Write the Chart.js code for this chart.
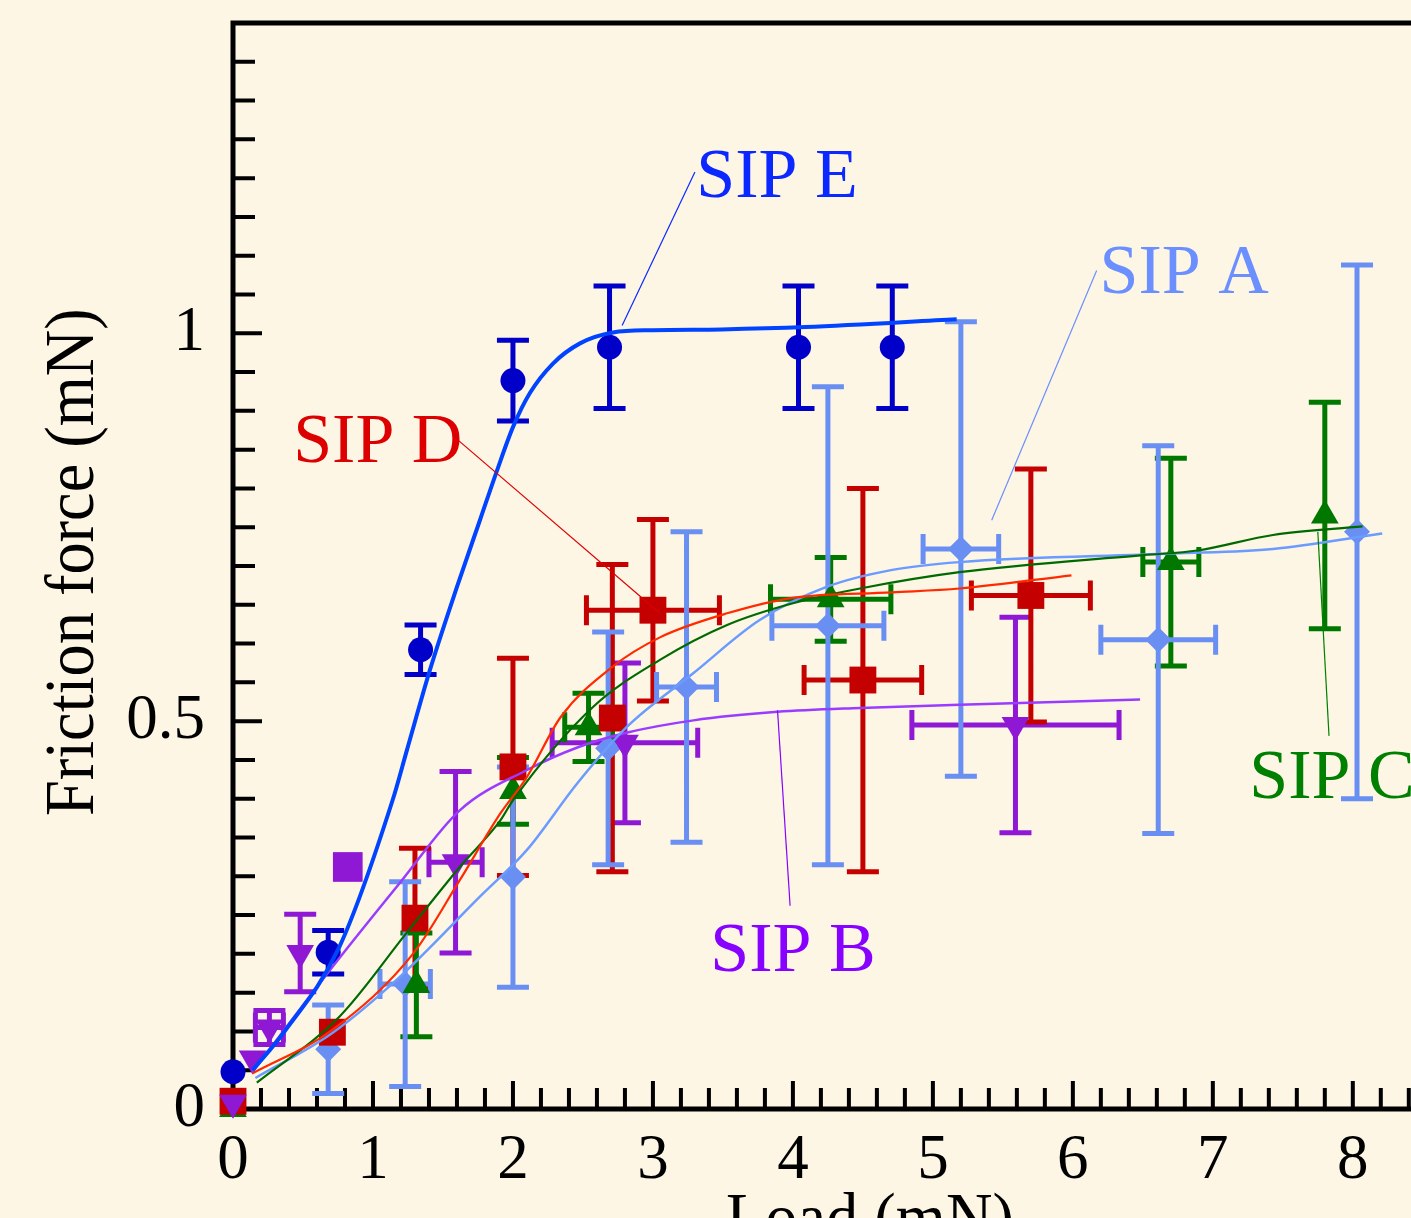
<!DOCTYPE html>
<html>
<head>
<meta charset="utf-8">
<title>Friction force vs load</title>
<script src="https://cdn.jsdelivr.net/npm/chart.js@4.4.0/dist/chart.umd.min.js"></script>
<style>
  html, body { margin: 0; padding: 0; overflow: hidden; background: #fdf6e5; }
  canvas { display: block; }
</style>
</head>
<body>
<canvas id="fric" width="1420" height="1218"></canvas>
<script>
// measured points (load mN, friction mN) with error bars
const sipE_x = [0, 0.68, 1.34, 2.0, 2.69, 4.04, 4.71];
const sipE_y = [0.048, 0.202, 0.592, 0.939, 0.982, 0.982, 0.982];
const sipE_xErr = [0, 0, 0, 0, 0, 0, 0];
const sipE_yErr = [0, 0.028, 0.032, 0.052, 0.079, 0.079, 0.079];

const sipD_x = [0, 0.71, 1.30, 2.0, 2.71, 3.0, 4.5, 5.70];
const sipD_y = [0.01, 0.099, 0.246, 0.441, 0.504, 0.643, 0.553, 0.662];
const sipD_xErr = [0, 0, 0, 0, 0, 0.475, 0.42, 0.425];
const sipD_yErr = [0, 0, 0.09, 0.14, 0.198, 0.117, 0.247, 0.163];

const sipC_x = [0, 1.31, 2.0, 2.54, 4.27, 6.70, 7.80];
const sipC_y = [0, 0.160, 0.410, 0.492, 0.657, 0.705, 0.765];
const sipC_xErr = [0, 0, 0, 0.17, 0.43, 0.2, 0];
const sipC_yErr = [0, 0.067, 0.043, 0.044, 0.054, 0.134, 0.146];

const sipA_x = [0, 0.68, 1.23, 2.0, 2.68, 3.24, 4.25, 5.20, 6.61, 8.03];
const sipA_y = [0.005, 0.077, 0.161, 0.299, 0.465, 0.544, 0.623, 0.722, 0.605, 0.744];
const sipA_xErr = [0, 0, 0.18, 0, 0, 0.214, 0.4, 0.27, 0.41, 0];
const sipA_yErr = [0, 0.057, 0.132, 0.142, 0.15, 0.2, 0.308, 0.293, 0.25, 0.344];

const sipB_x = [0, 0.14, 0.26, 0.48, 0.82, 1.59, 2.8, 5.59];
const sipB_y = [0.008, 0.065, 0.105, 0.201, 0.312, 0.318, 0.472, 0.495];
const sipB_xErr = [0, 0, 0.1, 0, 0, 0.19, 0.52, 0.74];
const sipB_yErr = [0, 0, 0.022, 0.05, 0, 0.117, 0.103, 0.139];
const sipB_style = ['triangle', 'triangle', 'triangle', 'triangle', 'rect', 'triangle', 'triangle', 'triangle'];
const sipB_size = [16, 16, 16, 16, 21, 16, 16, 16];

// fitted curves
const curveE_x = [0.14, 0.36, 0.76, 1.14, 1.243, 1.407, 1.60, 1.764, 1.886, 2.0, 2.121, 2.286, 2.479, 2.714, 3.0, 3.49, 4.09, 5.17];
const curveE_y = [0.05, 0.098, 0.209, 0.398, 0.463, 0.566, 0.673, 0.759, 0.823, 0.879, 0.923, 0.961, 0.987, 1.001, 1.004, 1.005, 1.008, 1.018];
const curveD_x = [0.14, 0.71, 1.29, 1.62, 1.91, 2.10, 2.34, 2.71, 3.05, 3.53, 4.0, 4.71, 5.19, 5.99];
const curveD_y = [0.046, 0.102, 0.201, 0.295, 0.381, 0.428, 0.505, 0.570, 0.608, 0.639, 0.659, 0.666, 0.671, 0.688];
const curveC_x = [0.17, 0.76, 1.24, 1.62, 1.91, 2.0, 2.57, 3.05, 3.53, 4.0, 4.48, 5.19, 6.5, 6.89, 7.43, 8.07];
const curveC_y = [0.034, 0.119, 0.227, 0.312, 0.372, 0.398, 0.518, 0.579, 0.624, 0.652, 0.671, 0.692, 0.714, 0.720, 0.740, 0.751];
const curveA_x = [0.16, 0.71, 1.19, 1.76, 2.10, 2.46, 2.81, 3.29, 3.76, 4.24, 4.71, 5.19, 6.71, 7.43, 8.21];
const curveA_y = [0.040, 0.098, 0.170, 0.273, 0.334, 0.420, 0.492, 0.562, 0.630, 0.673, 0.695, 0.705, 0.716, 0.722, 0.742];
const curveB_x = [0.14, 0.71, 1.19, 1.62, 2.10, 2.46, 2.81, 3.29, 3.89, 4.48, 5.19, 6.48];
const curveB_y = [0.048, 0.183, 0.291, 0.385, 0.437, 0.466, 0.485, 0.501, 0.512, 0.517, 0.521, 0.528];

// labels and leader lines
const labelText = ['SIP E', 'SIP A', 'SIP D', 'SIP B', 'SIP C'];
const labelX = [3.31, 6.19, 0.43, 3.41, 7.26];
const labelY = [1.200, 1.075, 0.858, 0.201, 0.424];
const leadFromX = [3.30, 6.17, 1.61, 3.98, 7.83];
const leadFromY = [1.208, 1.081, 0.862, 0.262, 0.481];
const leadToX = [2.78, 5.42, 3.05, 3.89, 7.75];
const leadToY = [1.010, 0.759, 0.639, 0.514, 0.744];
const labelColor = ['#0a28ff', '#6b8fff', '#dd0000', '#8800ff', '#008000'];

const SERIF = "'Liberation Serif', 'DejaVu Serif', serif";
const eMark = '#0000c8', eLine = '#0044ff';
const dMark = '#c40000', dLine = '#ff2a00';
const cMark = '#007800', cLine = '#006a00';
const aMark = '#6a8ff2', aLine = '#6b9bff';
const bMark = '#8e18d4', bLine = '#9a3cff';

function pts(xs, ys) { return xs.map((v, i) => ({ x: v, y: ys[i] })); }

const frameTicks = {
  id: 'frameTicks',
  beforeDatasetsDraw(chart) {
    const { ctx, chartArea: a, scales: { x, y } } = chart;
    ctx.save();
    ctx.strokeStyle = '#000';
    ctx.lineWidth = 4;
    ctx.beginPath();
    for (let i = 1; i <= 27; i++) {
      const py = y.getPixelForValue(i * 0.05);
      ctx.moveTo(a.left, py);
      ctx.lineTo(a.left + (i % 10 === 0 ? 29 : 22), py);
    }
    for (let i = 1; i <= 42; i++) {
      const px = x.getPixelForValue(i * 0.2);
      ctx.moveTo(px, a.bottom);
      ctx.lineTo(px, a.bottom - (i % 5 === 0 ? 28 : 21));
    }
    ctx.stroke();
    ctx.lineWidth = 5;
    ctx.beginPath();
    ctx.moveTo(a.right + 10, a.top);
    ctx.lineTo(a.left, a.top);
    ctx.lineTo(a.left, a.bottom);
    ctx.lineTo(a.right + 10, a.bottom);
    ctx.stroke();

    // error bars
    chart.data.datasets.forEach(ds => {
      if (!ds.errY) return;
      ctx.strokeStyle = ds.backgroundColor;
      ctx.lineWidth = 5;
      ctx.beginPath();
      ds.data.forEach((p, i) => {
        const px = x.getPixelForValue(p.x), py = y.getPixelForValue(p.y);
        const ey = ds.errY[i], ex = ds.errX[i];
        if (ey) {
          const t = y.getPixelForValue(p.y + ey), b = y.getPixelForValue(p.y - ey);
          ctx.moveTo(px, t); ctx.lineTo(px, b);
          ctx.moveTo(px - 16, t); ctx.lineTo(px + 16, t);
          ctx.moveTo(px - 16, b); ctx.lineTo(px + 16, b);
        }
        if (ex) {
          const l = x.getPixelForValue(p.x - ex), r = x.getPixelForValue(p.x + ex);
          ctx.moveTo(l, py); ctx.lineTo(r, py);
          ctx.moveTo(l, py - 15); ctx.lineTo(l, py + 15);
          ctx.moveTo(r, py - 15); ctx.lineTo(r, py + 15);
        }
      });
      ctx.stroke();
    });
    ctx.restore();
  },
  afterDatasetsDraw(chart) {
    const { ctx, chartArea: a, scales: { x, y } } = chart;
    ctx.save();
    labelText.forEach((t, i) => {
      ctx.strokeStyle = labelColor[i];
      ctx.lineWidth = 1.2;
      ctx.beginPath();
      ctx.moveTo(x.getPixelForValue(leadFromX[i]), y.getPixelForValue(leadFromY[i]));
      ctx.lineTo(x.getPixelForValue(leadToX[i]), y.getPixelForValue(leadToY[i]));
      ctx.stroke();
      ctx.fillStyle = labelColor[i];
      ctx.font = '70px ' + SERIF;
      ctx.textAlign = 'left';
      ctx.textBaseline = 'middle';
      ctx.fillText(t, x.getPixelForValue(labelX[i]), y.getPixelForValue(labelY[i]));
    });
    // axis titles
    ctx.fillStyle = '#000';
    ctx.font = '70px ' + SERIF;
    ctx.textAlign = 'center';
    ctx.textBaseline = 'alphabetic';
    ctx.save();
    ctx.translate(x.getPixelForValue(4.55), a.bottom + 132);
    ctx.scale(0.92, 1);
    ctx.fillText('Load (mN)', 0, 0);
    ctx.restore();
    ctx.translate(75, y.getPixelForValue(0.705));
    ctx.rotate(-Math.PI / 2);
    ctx.scale(0.92, 1);
    ctx.textBaseline = 'middle';
    ctx.fillText('Friction force (mN)', 0, 0);
    ctx.restore();
  }
};

function markers(label, xs, ys, xe, ye, color, style, radius, rot) {
  return {
    label, data: pts(xs, ys), errX: xe, errY: ye,
    showLine: false, pointStyle: style, pointRadius: radius, rotation: rot,
    backgroundColor: color, borderColor: color, borderWidth: 0,
    clip: false, order: 1
  };
}
function curve(label, xs, ys, color, width) {
  return {
    label, data: pts(xs, ys), showLine: true, pointRadius: 0,
    borderColor: color, borderWidth: width, backgroundColor: color,
    cubicInterpolationMode: 'monotone', fill: false, order: 0
  };
}

new Chart(document.getElementById('fric'), {
  type: 'scatter',
  data: {
    datasets: [
      markers('SIP B', sipB_x, sipB_y, sipB_xErr, sipB_yErr, bMark, sipB_style, sipB_size, 180),
      markers('SIP E', sipE_x, sipE_y, sipE_xErr, sipE_yErr, eMark, 'circle', 12.5, 0),
      markers('SIP D', sipD_x, sipD_y, sipD_xErr, sipD_yErr, dMark, 'rect', 19, 0),
      markers('SIP C', sipC_x, sipC_y, sipC_xErr, sipC_yErr, cMark, 'triangle', 16, 0),
      markers('SIP A', sipA_x, sipA_y, sipA_xErr, sipA_yErr, aMark, 'rectRot', 13, 0),
      curve('fit E', curveE_x, curveE_y, eLine, 4),
      curve('fit D', curveD_x, curveD_y, dLine, 2.2),
      curve('fit C', curveC_x, curveC_y, cLine, 2.2),
      curve('fit A', curveA_x, curveA_y, aLine, 2.5),
      curve('fit B', curveB_x, curveB_y, bLine, 2.5)
    ]
  },
  options: {
    responsive: false,
    animation: false,
    layout: { autoPadding: false, padding: { top: 23, right: 0, left: 0, bottom: 0 } },
    plugins: { legend: { display: false }, tooltip: { enabled: false } },
    scales: {
      x: {
        type: 'linear', min: 0, max: 8.48,
        grid: { display: false, drawTicks: false },
        border: { display: false },
        ticks: { stepSize: 1, includeBounds: false, padding: 15, color: '#000', font: { family: SERIF, size: 63 } },
        afterFit: s => { s.height = 109; s.paddingLeft = 0; s.paddingRight = 0; }
      },
      y: {
        type: 'linear', min: 0, max: 1.4,
        grid: { display: false, drawTicks: false },
        border: { display: false },
        ticks: { stepSize: 0.5, includeBounds: false, padding: 28, color: '#000', font: { family: SERIF, size: 63 },
                 callback: v => String(v) },
        afterFit: s => { s.width = 233; s.paddingTop = 0; s.paddingBottom = 0; }
      }
    }
  },
  plugins: [frameTicks]
});
</script>
</body>
</html>
